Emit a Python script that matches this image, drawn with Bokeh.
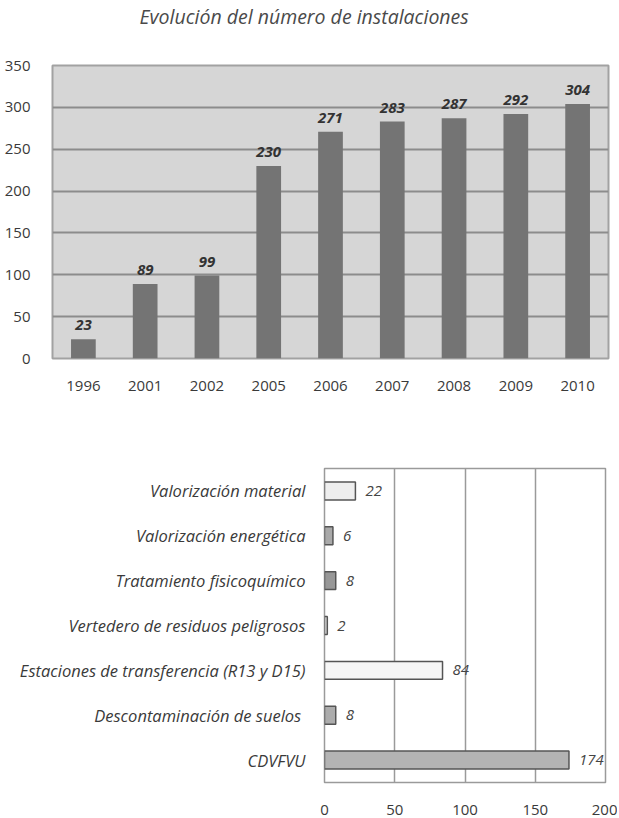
from bokeh.plotting import figure
from bokeh.models import ColumnDataSource, LabelSet, Range1d, FactorRange, FixedTicker
from bokeh.core.properties import value
from bokeh.embed import file_html
from bokeh.resources import INLINE

# ---------------- data ----------------
title_text = "Evolución del número de instalaciones"
years = ["1996", "2001", "2002", "2005", "2006", "2007", "2008", "2009", "2010"]
installations = [23, 89, 99, 230, 271, 283, 287, 292, 304]
y_ticks = [0, 50, 100, 150, 200, 250, 300, 350]

categories = [
    "Valorización material",
    "Valorización energética",
    "Tratamiento fisicoquímico",
    "Vertedero de residuos peligrosos",
    "Estaciones de transferencia (R13 y D15)",
    "Descontaminación  de suelos",
    "CDVFVU",
]
counts = [22, 6, 8, 2, 84, 8, 174]
x_ticks = [0, 50, 100, 150, 200]

# styles (kept apart from the data)
bar_colors = ["#eeeeee", "#a9a9a9", "#979797", "#dddddd", "#f6f6f6", "#acacac", "#b3b3b3"]

FONT = "Open Sans"
TXT = "#3a3a3a"
W = 617

# ---------------- title strip ----------------
p0 = figure(width=W, height=38, output_backend="svg", toolbar_location=None,
            x_axis_type=None, y_axis_type=None, min_border=0, title_location="above")
p0.outline_line_color = None
p0.title.text = title_text
p0.title.align = "left"
p0.title.offset = 139
p0.title.standoff = 0
p0.title.text_font = FONT
p0.title.text_font_style = "italic"
p0.title.text_font_size = "19.5px"
p0.title.text_color = "#4a4a4a"

# ---------------- top chart ----------------
src1 = ColumnDataSource(dict(year=years, n=installations, lab=[str(v) for v in installations]))

p1 = figure(x_range=FactorRange(*years), y_range=Range1d(0, 350),
            width=W, height=362, output_backend="svg", toolbar_location=None,
            min_border_left=52, min_border_right=9, min_border_top=27, min_border_bottom=42)

p1.background_fill_color = "#d6d6d6"

p1.vbar(x="year", top="n", width=0.4, source=src1, fill_color="#747474", line_color=None)
p1.add_layout(LabelSet(x="year", y="n", text="lab", source=src1, y_offset=9,
                       text_align="center", text_baseline="bottom",
                       text_font=value(FONT), text_font_style="bold italic",
                       text_font_size="15px", text_color="#333333"))

p1.outline_line_color = "#a2a2a2"
p1.outline_line_width = 2
p1.xgrid.grid_line_color = None
p1.ygrid.grid_line_color = "#8c8c8c"
p1.ygrid.grid_line_width = 2
p1.yaxis.ticker = FixedTicker(ticks=y_ticks)
for ax in (p1.xaxis[0], p1.yaxis[0]):
    ax.axis_line_color = None
    ax.major_tick_line_color = None
    ax.minor_tick_line_color = None
    ax.major_label_text_font = FONT
    ax.major_label_text_font_size = "15px"
    ax.major_label_text_color = TXT
p1.yaxis.major_label_standoff = 16
p1.xaxis.major_label_standoff = 16

# ---------------- bottom chart ----------------
src2 = ColumnDataSource(dict(cat=categories, v=counts, lab=[str(v) for v in counts], color=bar_colors))

p2 = figure(y_range=FactorRange(*reversed(categories)), x_range=Range1d(0, 200),
            width=W, height=418, output_backend="svg", toolbar_location=None,
            min_border_left=324, min_border_right=12, min_border_top=68, min_border_bottom=36)
p2.background_fill_color = "white"
p2.hbar(y="cat", left=0, right="v", height=0.4, source=src2, fill_color="color",
        line_color="#555555", line_width=1.5)
p2.add_layout(LabelSet(x="v", y="cat", text="lab", source=src2, x_offset=10,
                       text_align="left", text_baseline="middle",
                       text_font=value(FONT), text_font_style="italic",
                       text_font_size="15px", text_color="#444444"))

p2.outline_line_color = "#9a9a9a"
p2.outline_line_width = 1.5
p2.ygrid.grid_line_color = None
p2.xgrid.grid_line_color = "#9a9a9a"
p2.xgrid.grid_line_width = 1.5
p2.xaxis.ticker = FixedTicker(ticks=x_ticks)
for ax in (p2.xaxis[0], p2.yaxis[0]):
    ax.axis_line_color = None
    ax.major_tick_line_color = None
    ax.minor_tick_line_color = None
    ax.major_label_text_font = FONT
    ax.major_label_text_font_size = "15px"
    ax.major_label_text_color = TXT
p2.yaxis.major_label_text_font_style = "italic"
p2.yaxis.major_label_text_font_size = "16.5px"
p2.yaxis.major_label_standoff = 13
p2.xaxis.major_label_standoff = 16

open("out.html", "w").write(file_html([p0, p1, p2], INLINE))
